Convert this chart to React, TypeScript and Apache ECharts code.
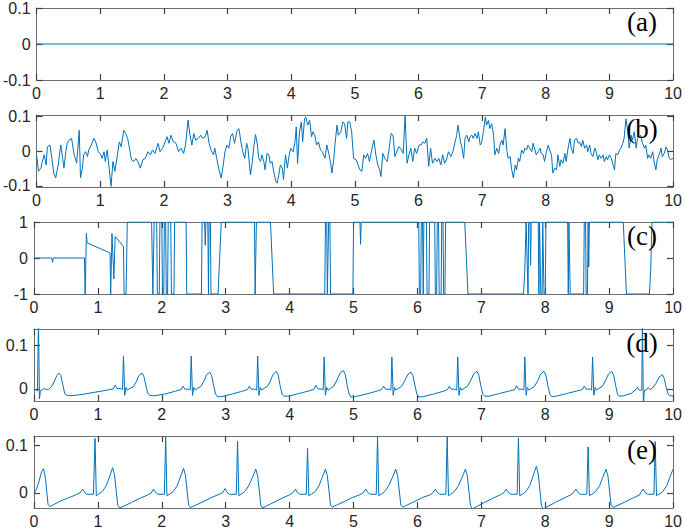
import React, { useEffect, useRef } from "react";
import * as echarts from "echarts";

// ---------- data ----------
const xTicks = [0, 1, 2, 3, 4, 5, 6, 7, 8, 9, 10];
const panelLabels = ["(a)", "(b)", "(c)", "(d)", "(e)"];

const yTicksA = [-0.1, 0, 0.1];
const yTicksB = [-0.1, 0, 0.1];
const yTicksC = [-1, 0, 1];
const yTicksD = [0, 0.1];
const yTicksE = [0, 0.1];

const yRangeA = [-0.1, 0.1];
const yRangeB = [-0.103, 0.103];
const yRangeC = [-1, 1];
const yRangeD = [-0.028, 0.137];
const yRangeE = [-0.032, 0.12];

const sigA: number[][] = [[0, 0], [10, 0]];

const sigB: number[][] = [
  [0,-0.011],[0.03,-0.058],[0.07,-0.049],[0.09,-0.030],[0.12,-0.011],[0.15,-0.040],[0.17,0.012],[0.21,0.017],[0.24,-0.021],[0.27,-0.063],[0.30,-0.077],[0.34,-0.040],[0.38,0.017],[0.41,-0.021],[0.43,-0.049],[0.46,-0.002],[0.48,0.022],[0.51,0.031],[0.55,0.036],[0.59,-0.011],[0.63,-0.035],[0.67,0.059],[0.69,-0.077],[0.72,-0.049],[0.74,-0.011],[0.77,-0.002],[0.80,-0.016],[0.82,0.003],[0.86,0.017],[0.90,0.036],[0.93,0.026],[0.97,-0.002],[1.01,-0.011],[1.03,-0.021],[1.06,-0.002],[1.08,-0.030],[1.11,0.003],[1.14,-0.049],[1.17,-0.101],[1.20,-0.030],[1.23,-0.058],[1.27,-0.011],[1.30,0.026],[1.33,0.012],[1.37,0.059],[1.40,0.050],[1.43,0.036],[1.46,0.008],[1.49,-0.025],[1.53,-0.030],[1.56,-0.021],[1.59,-0.030],[1.63,-0.049],[1.67,-0.025],[1.71,-0.021],[1.75,-0.002],[1.79,-0.011],[1.82,0.003],[1.86,-0.007],[1.91,0.022],[1.94,-0.002],[1.98,0.008],[2.02,0.026],[2.05,0.041],[2.08,0.022],[2.11,0.045],[2.15,0.026],[2.19,0.022],[2.23,-0.002],[2.27,0.008],[2.31,-0.007],[2.34,0.017],[2.38,0.088],[2.41,0.045],[2.44,0.017],[2.47,0.050],[2.50,0.031],[2.54,0.036],[2.58,0.045],[2.61,0.036],[2.65,0.041],[2.68,0.059],[2.71,0.022],[2.74,0.003],[2.78,-0.011],[2.80,0.008],[2.83,-0.021],[2.86,-0.049],[2.90,-0.077],[2.93,-0.044],[2.96,-0.002],[2.99,0.017],[3.02,0.008],[3.05,0.041],[3.08,0.050],[3.11,0.022],[3.15,0.059],[3.18,0.064],[3.21,0.026],[3.24,-0.002],[3.27,-0.021],
  [3.30,0.022],[3.32,0.008],[3.36,-0.068],[3.39,-0.030],[3.41,0.008],[3.44,0.047],[3.47,0.017],[3.49,-0.021],[3.52,-0.030],[3.54,-0.011],[3.57,-0.030],[3.59,-0.054],[3.62,-0.007],[3.65,-0.011],[3.67,-0.035],[3.70,-0.030],[3.72,-0.054],[3.76,-0.087],[3.78,-0.092],[3.81,-0.063],[3.83,-0.040],[3.86,-0.049],[3.88,-0.082],[3.91,-0.011],[3.94,-0.049],[3.96,-0.021],[3.99,0.008],[4.03,-0.002],[4.06,0.026],[4.08,0.069],[4.10,-0.035],[4.13,0.055],[4.16,0.083],[4.18,0.026],[4.21,0.092],[4.23,0.097],[4.26,0.074],[4.29,0.088],[4.32,0.041],[4.34,0.055],[4.37,0.045],[4.40,0.017],[4.43,0.026],[4.46,0.003],[4.49,-0.002],[4.53,-0.021],[4.56,0.017],[4.59,-0.007],[4.62,-0.035],[4.64,-0.063],[4.67,-0.021],[4.69,0.022],[4.72,0.074],[4.74,0.045],[4.78,0.055],[4.81,0.083],[4.84,0.078],[4.87,0.036],[4.89,0.083],[4.92,0.083],[4.95,0.055],[4.98,-0.021],[5.02,-0.025],[5.05,-0.040],[5.08,-0.054],[5.11,-0.058],[5.14,-0.011],[5.17,-0.021],[5.20,-0.007],[5.23,-0.030],[5.27,0.008],[5.30,0.031],[5.33,-0.011],[5.36,-0.040],[5.39,-0.054],[5.41,-0.073],[5.44,-0.007],[5.47,-0.021],[5.51,-0.030],[5.54,0.008],[5.57,0.050],[5.60,0.045],[5.63,-0.016],[5.66,-0.002],[5.69,0.012],[5.72,0.008],[5.76,-0.007],[5.79,0.102],[5.82,-0.035],[5.85,-0.011],[5.88,0.008],[5.91,-0.030],[5.94,0.008],[5.97,-0.007],[6.01,0.017],[6.04,0.017],[6.07,0.026],[6.10,0.022],[6.13,0.036],[6.16,-0.044],[6.19,0.008],[6.22,-0.035],[6.26,-0.021],[6.29,-0.030],[6.32,-0.021],[6.35,-0.040],[6.38,-0.011],[6.41,-0.035],[6.44,-0.025],[6.47,-0.002],[6.51,-0.016],[6.54,-0.002],[6.57,0.022],[6.60,0.045],[6.62,0.074],
  [6.66,0.026],[6.68,0.012],[6.71,-0.021],[6.73,0.036],[6.76,0.045],[6.79,0.026],[6.81,0.041],[6.84,0.045],[6.86,0.036],[6.89,0.050],[6.92,0.036],[6.94,0.055],[6.97,0.017],[6.99,0.022],[7.02,0.055],[7.05,0.097],[7.07,0.074],[7.10,0.088],[7.12,0.064],[7.15,0.078],[7.18,0.045],[7.20,-0.011],[7.23,0.008],[7.26,-0.007],[7.28,0.017],[7.31,0.031],[7.33,0.017],[7.36,0.064],[7.39,-0.002],[7.41,-0.021],[7.44,-0.016],[7.46,-0.049],[7.49,-0.077],[7.52,-0.040],[7.54,-0.054],[7.57,-0.021],[7.59,-0.030],[7.62,0.003],[7.65,-0.007],[7.67,0.008],[7.70,0.003],[7.72,0.017],[7.75,0.008],[7.78,-0.002],[7.80,0.022],[7.83,0.003],[7.85,-0.011],[7.88,-0.002],[7.91,0.008],[7.93,-0.007],[7.96,-0.011],[7.98,-0.030],[8.01,-0.002],[8.04,0.017],[8.06,0.003],[8.09,-0.011],[8.11,-0.063],[8.14,-0.049],[8.17,-0.054],[8.19,-0.011],[8.22,-0.044],[8.24,-0.025],[8.27,-0.035],[8.30,-0.007],[8.32,-0.030],[8.35,0.008],[8.38,0.036],[8.40,0.008],[8.43,-0.007],[8.45,0.031],[8.48,0.036],[8.51,0.022],[8.53,0.026],[8.56,0.012],[8.58,0.031],[8.61,0.008],[8.64,0.017],[8.66,-0.002],[8.69,0.017],[8.71,-0.007],[8.74,-0.016],[8.77,0.008],[8.79,-0.002],[8.82,-0.025],[8.84,-0.011],[8.87,-0.021],[8.90,-0.011],[8.92,-0.030],[8.95,-0.016],[8.97,-0.025],[9.00,-0.011],[9.03,-0.021],[9.05,-0.035],[9.08,-0.054],[9.10,-0.007],[9.13,-0.011],[9.16,0.003],[9.18,0.008],[9.21,0.022],[9.23,0.036],[9.26,0.092],[9.29,0.055],[9.31,0.008],[9.34,0.045],[9.36,0.031],[9.39,0.055],[9.42,0.008],[9.44,0.036],[9.47,0.041],[9.49,0.045],[9.52,0.022],[9.55,0.008],[9.57,0.017],[9.60,-0.021],[9.62,-0.011],[9.65,-0.021],[9.68,-0.002],[9.70,-0.030],[9.73,-0.054],[9.75,-0.025],[9.78,-0.011],[9.81,0.008],[9.83,-0.016],[9.86,-0.007],[9.89,0.012],[9.91,0.003],[9.94,-0.021],[9.96,-0.025],[10.0,-0.021],
];

const sigC: number[][] = [
  [0,0],[0.28,0],[0.29,-0.12],[0.30,0],[0.79,0],[0.80,-1],[0.81,-1],[0.82,0.69],[0.83,0.42],[1.19,0.14],[1.20,-1],[1.21,-1],[1.22,0.68],[1.25,-0.58],[1.27,0.60],[1.40,0.32],[1.41,-1],[1.44,-1],[1.46,1],
  [1.84,1],[1.86,-1],[1.87,-1],[1.88,1],[1.92,1],[1.93,-1],[1.96,-1],[1.97,1],[2.00,1],[2.01,-1],[2.03,-1],[2.04,1],[2.06,1],[2.07,-1],[2.09,-1],[2.10,1],[2.14,1],[2.15,-1],[2.19,-1],[2.20,1],[2.38,1],[2.39,-1],[2.62,-1],[2.63,1],[2.67,1],[2.68,0.35],[2.69,1],[2.72,1],[2.73,-1],[2.74,1],[2.76,1],[2.77,-1],[2.88,-1],[2.93,1],[3.45,1],[3.46,-1],[3.47,-1],[3.48,1],[3.70,1],[3.75,-1],
  [4.55,-1],[4.56,1],[4.58,1],[4.59,-1],[4.60,-1],[4.61,1],[4.63,1],[4.64,-1],[4.99,-1],[5.00,1],[5.10,1],[5.11,0.38],[5.12,1],[6.02,1],[6.03,-1],[6.05,-1],[6.06,1],[6.08,1],[6.09,-1],[6.10,1],[6.14,1],[6.15,-1],[6.18,-1],[6.19,1],[6.27,1],[6.28,-1],[6.30,-1],[6.31,1],[6.33,1],[6.34,-1],[6.37,-1],[6.38,1],[6.40,1],[6.41,-1],[6.43,-1],[6.44,1],[6.74,1],[6.79,-1],
  [7.66,-1],[7.68,-0.3],[7.70,1],[7.71,1],[7.73,-1],[7.74,1],[7.76,1],[7.77,-0.2],[7.78,1],[7.89,1],[7.90,-1],[7.91,1],[7.93,-1],[7.95,-1],[7.96,1],[7.98,-1],[8.00,-1],[8.01,1],[8.35,1],[8.36,-1],[8.37,1],[8.38,1],[8.39,-1],[8.60,-1],[8.61,1],[8.63,1],[8.64,-1],[8.66,-1],[8.67,1],[8.68,-0.25],[8.69,1],[9.22,1],[9.27,-1],[9.63,-1],[9.65,-0.3],[9.67,1],[10,1],
];

const sigD: number[][] = [
  [0.00,-0.003],[0.03,-0.002],[0.055,-0.005],[0.07,0.16],[0.085,-0.023],[0.10,-0.004],[0.13,-0.002],[0.16,0.001],[0.19,-0.002],[0.23,-0.001],[0.28,0.006],[0.32,0.018],[0.36,0.031],[0.39,0.036],[0.42,0.03],[0.45,0.01],[0.48,-0.01],[0.51,-0.015],[0.58,-0.016],[0.75,-0.013],[0.95,-0.008],[1.15,-0.003],
  [1.24,0.000],[1.27,0.008],[1.30,0.001],[1.37,0.000],[1.385,-0.002],[1.40,0.075],[1.42,-0.015],[1.44,0.003],[1.46,-0.003],[1.50,0.001],[1.55,0.004],[1.60,0.016],[1.64,0.030],[1.69,0.036],[1.72,0.028],[1.75,0.008],[1.78,-0.010],[1.81,-0.015],[1.88,-0.016],[2.05,-0.012],[2.20,-0.006],
  [2.30,-0.002],[2.33,0.006],[2.36,-0.001],[2.43,-0.001],[2.445,-0.003],[2.46,0.075],[2.48,-0.015],[2.50,0.003],[2.52,-0.003],[2.56,0.001],[2.61,0.005],[2.66,0.018],[2.70,0.032],[2.75,0.038],[2.78,0.03],[2.81,0.008],[2.84,-0.012],[2.87,-0.018],[2.94,-0.018],[3.10,-0.012],[3.25,-0.006],
  [3.34,-0.002],[3.37,0.006],[3.40,-0.001],[3.47,-0.001],[3.485,-0.003],[3.50,0.075],[3.52,-0.015],[3.54,0.003],[3.56,-0.003],[3.60,0.001],[3.65,0.005],[3.70,0.018],[3.74,0.033],[3.79,0.040],[3.82,0.032],[3.85,0.008],[3.88,-0.012],[3.91,-0.017],[3.98,-0.017],[4.14,-0.011],[4.30,-0.005],
  [4.38,-0.001],[4.41,0.008],[4.44,0.000],[4.51,-0.001],[4.525,-0.003],[4.54,0.073],[4.56,-0.015],[4.58,0.003],[4.60,-0.003],[4.64,0.001],[4.69,0.006],[4.74,0.02],[4.79,0.036],[4.84,0.042],[4.87,0.033],[4.90,0.008],[4.93,-0.012],[4.96,-0.019],[5.03,-0.018],[5.20,-0.012],[5.35,-0.006],
  [5.44,-0.002],[5.47,0.006],[5.50,-0.001],[5.57,-0.001],[5.585,-0.003],[5.60,0.073],[5.62,-0.015],[5.64,0.003],[5.66,-0.003],[5.70,0.001],[5.75,0.005],[5.80,0.018],[5.85,0.033],[5.90,0.038],[5.93,0.030],[5.96,0.008],[5.99,-0.012],[6.02,-0.019],[6.09,-0.018],[6.25,-0.012],[6.40,-0.006],
  [6.47,-0.002],[6.50,0.006],[6.53,-0.001],[6.60,-0.001],[6.615,-0.003],[6.63,0.073],[6.65,-0.015],[6.67,0.003],[6.69,-0.003],[6.73,0.001],[6.78,0.005],[6.83,0.018],[6.88,0.034],[6.93,0.040],[6.96,0.031],[6.99,0.008],[7.02,-0.012],[7.05,-0.017],[7.12,-0.017],[7.28,-0.011],[7.44,-0.005],
  [7.52,-0.002],[7.55,0.007],[7.58,-0.001],[7.65,-0.001],[7.665,-0.003],[7.68,0.073],[7.70,-0.015],[7.72,0.003],[7.74,-0.003],[7.78,0.001],[7.83,0.005],[7.88,0.018],[7.93,0.034],[7.98,0.040],[8.01,0.031],[8.04,0.008],[8.07,-0.012],[8.10,-0.018],[8.17,-0.017],[8.33,-0.011],[8.50,-0.005],
  [8.58,-0.002],[8.61,0.006],[8.64,-0.001],[8.71,-0.001],[8.725,-0.003],[8.74,0.073],[8.76,-0.015],[8.78,0.003],[8.80,-0.003],[8.84,0.001],[8.89,0.005],[8.94,0.018],[8.99,0.034],[9.04,0.040],[9.07,0.031],[9.10,0.008],[9.13,-0.012],[9.16,-0.017],[9.23,-0.016],[9.35,-0.01],
  [9.40,-0.004],[9.44,0.003],[9.47,-0.003],[9.51,-0.003],[9.52,0.16],[9.535,-0.04],[9.55,-0.004],[9.58,-0.003],[9.61,0.003],[9.64,-0.002],[9.68,0.002],[9.73,0.012],[9.78,0.026],[9.83,0.033],[9.86,0.024],[9.89,0.005],[9.92,-0.012],[9.95,-0.016],[10.0,-0.016],
];

const sigE: number[][] = [
  [0.00,-0.002],[0.04,0.008],[0.08,0.025],[0.12,0.045],[0.15,0.051],[0.18,0.030],[0.22,-0.025],[0.25,-0.029],[0.32,-0.024],[0.42,-0.017],[0.55,-0.010],[0.66,-0.004],[0.72,0.000],[0.76,0.008],[0.79,0.002],[0.82,-0.003],[0.93,-0.003],[0.955,0.115],[0.975,-0.006],[1.01,-0.003],[1.07,0.003],[1.13,0.015],[1.18,0.033],[1.23,0.053],[1.26,0.038],[1.31,-0.026],[1.34,-0.032],[1.42,-0.027],[1.53,-0.020],[1.65,-0.012],[1.77,-0.005],
  [1.83,-0.001],[1.87,0.008],[1.90,0.001],[1.94,-0.003],[2.04,-0.003],[2.06,0.118],[2.08,-0.006],[2.12,-0.003],[2.18,0.003],[2.24,0.015],[2.29,0.033],[2.34,0.052],[2.37,0.037],[2.42,-0.026],[2.45,-0.031],[2.53,-0.026],[2.64,-0.019],[2.76,-0.011],[2.88,-0.004],
  [2.95,0.000],[2.99,0.009],[3.02,0.001],[3.06,-0.003],[3.165,-0.003],[3.185,0.109],[3.205,-0.006],[3.24,-0.003],[3.30,0.003],[3.36,0.015],[3.42,0.033],[3.47,0.050],[3.50,0.036],[3.55,-0.027],[3.58,-0.032],[3.66,-0.026],[3.77,-0.019],[3.89,-0.011],[4.00,-0.004],
  [4.05,0.000],[4.09,0.008],[4.12,0.001],[4.16,-0.003],[4.26,-0.003],[4.28,0.094],[4.30,-0.006],[4.34,-0.003],[4.40,0.003],[4.46,0.015],[4.51,0.033],[4.56,0.050],[4.59,0.036],[4.64,-0.026],[4.67,-0.030],[4.75,-0.025],[4.86,-0.018],[4.98,-0.010],[5.10,-0.004],
  [5.15,0.000],[5.19,0.008],[5.22,0.001],[5.26,-0.003],[5.355,-0.003],[5.375,0.118],[5.395,-0.006],[5.43,-0.003],[5.49,0.003],[5.55,0.015],[5.61,0.033],[5.66,0.050],[5.69,0.036],[5.74,-0.026],[5.77,-0.030],[5.85,-0.025],[5.96,-0.018],[6.08,-0.010],[6.20,-0.004],
  [6.24,0.000],[6.28,0.008],[6.31,0.001],[6.35,-0.003],[6.445,-0.003],[6.465,0.118],[6.485,-0.006],[6.52,-0.003],[6.58,0.003],[6.64,0.015],[6.70,0.033],[6.75,0.050],[6.78,0.036],[6.83,-0.027],[6.86,-0.034],[6.94,-0.028],[7.05,-0.020],[7.17,-0.012],[7.30,-0.004],
  [7.35,0.000],[7.39,0.008],[7.42,0.001],[7.46,-0.003],[7.56,-0.003],[7.58,0.116],[7.60,-0.006],[7.64,-0.003],[7.70,0.003],[7.76,0.016],[7.81,0.036],[7.86,0.056],[7.89,0.040],[7.94,-0.027],[7.97,-0.034],[8.05,-0.028],[8.16,-0.020],[8.28,-0.012],[8.40,-0.004],
  [8.44,0.000],[8.48,0.008],[8.51,0.001],[8.55,-0.003],[8.65,-0.003],[8.67,0.097],[8.69,-0.006],[8.73,-0.003],[8.79,0.003],[8.85,0.015],[8.90,0.033],[8.95,0.050],[8.98,0.036],[9.03,-0.026],[9.06,-0.031],[9.14,-0.026],[9.25,-0.019],[9.37,-0.011],[9.48,-0.004],
  [9.49,0.000],[9.53,0.008],[9.56,0.001],[9.60,-0.003],[9.70,-0.003],[9.72,0.108],[9.74,-0.006],[9.78,-0.003],[9.84,0.003],[9.90,0.015],[9.95,0.033],[10.0,0.050],
];

// ---------- layout / style ----------
const W = 685;
const H = 532;
const LEFT = 34;
const RIGHT = 11;
const TOPS = [8, 115, 222, 329, 436];
const PH = 72;
const LINE = "#0072BD";
const FRAME = "#6e6e6e";
const TICK = "#404040";
const TXT = "#262626";
const SANS = "Liberation Sans";
const SERIF = "Liberation Serif";

export default function App() {
  const ref = useRef<HTMLDivElement>(null);
  useEffect(() => {
    document.body.style.margin = "0";
    if (!ref.current) return;
    const chart = echarts.init(ref.current, null, { renderer: "svg" });
    const sigs = [sigA, sigB, sigC, sigD, sigE];
    const ranges = [yRangeA, yRangeB, yRangeC, yRangeD, yRangeE];
    const yt = [yTicksA, yTicksB, yTicksC, yTicksD, yTicksE];

    const grids = TOPS.map((t) => ({ left: LEFT, right: RIGHT, top: t, height: PH, show: false }));
    const mkTick = (cv?: number[]) => {
      const o: any = { show: true, inside: true, length: 6, lineStyle: { color: TICK, width: 1.2 } };
      if (cv) o.customValues = cv;
      return o;
    };
    const mkLine = () => ({ show: true, onZero: false, lineStyle: { color: FRAME, width: 1 } });
    const xAxes: any[] = [];
    const yAxes: any[] = [];
    for (let i = 0; i < 5; i++) {
      xAxes.push({
        type: "value", gridIndex: i, min: xTicks[0], max: xTicks[xTicks.length - 1], interval: 1, position: "bottom",
        axisLine: mkLine(), splitLine: { show: false }, axisTick: mkTick(),
        axisLabel: { show: true, color: TXT, fontFamily: SANS, fontSize: 16, margin: 5 },
      });
    }
    for (let i = 0; i < 5; i++) {
      xAxes.push({
        type: "value", gridIndex: i, min: xTicks[0], max: xTicks[xTicks.length - 1], interval: 1, position: "top",
        axisLine: mkLine(), splitLine: { show: false }, axisTick: mkTick(),
        axisLabel: { show: false },
      });
    }
    for (let i = 0; i < 5; i++) {
      yAxes.push({
        type: "value", gridIndex: i, min: ranges[i][0], max: ranges[i][1], position: "left",
        axisLine: mkLine(), splitLine: { show: false },
        axisTick: mkTick(yt[i]),
        axisLabel: { show: true, color: TXT, fontFamily: SANS, fontSize: 16, margin: 6,
          customValues: yt[i], formatter: (v: number) => String(Math.round(v * 1000) / 1000) },
      });
    }
    for (let i = 0; i < 5; i++) {
      yAxes.push({
        type: "value", gridIndex: i, min: ranges[i][0], max: ranges[i][1], position: "right",
        axisLine: mkLine(), splitLine: { show: false },
        axisTick: mkTick(yt[i]),
        axisLabel: { show: false },
      });
    }
    const series = sigs.map((d, i) => ({
      type: "line", xAxisIndex: i, yAxisIndex: i, data: d, showSymbol: false, symbol: "none",
      clip: true, lineStyle: { color: LINE, width: 1 }, emphasis: { disabled: true },
    }));
    const graphic = panelLabels.map((s, i) => ({
      type: "text", x: 642, y: TOPS[i] + 14, z: 100,
      style: { text: s, fontFamily: SERIF, fontSize: 27, fill: "#000", align: "center", verticalAlign: "middle" },
    }));
    chart.setOption({
      animation: false,
      backgroundColor: "#fff",
      grid: grids,
      xAxis: xAxes,
      yAxis: yAxes,
      series,
      graphic,
    });
    return () => chart.dispose();
  }, []);
  return <div ref={ref} style={{ width: W, height: H }} />;
}
